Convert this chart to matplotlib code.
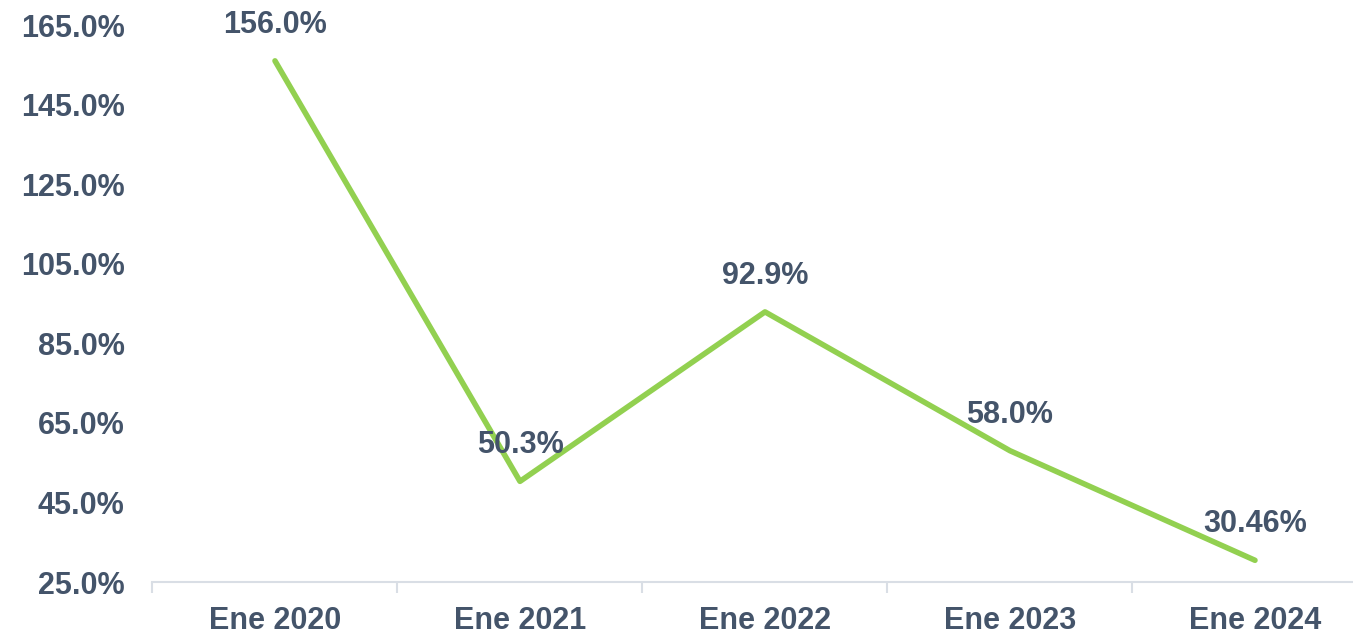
import matplotlib
matplotlib.use('Agg')
import matplotlib.pyplot as plt
from matplotlib.ticker import FixedLocator, NullFormatter

# data
categories = ['Ene 2020', 'Ene 2021', 'Ene 2022', 'Ene 2023', 'Ene 2024']
values = [156.0, 50.3, 92.9, 58.0, 30.46]
labels = ['156.0%', '50.3%', '92.9%', '58.0%', '30.46%']
y_ticks = [25, 45, 65, 85, 105, 125, 145, 165]

text_color = '#44546A'
line_color = '#92D050'
axis_color = '#D9DEE5'

plt.rcParams['font.family'] = ['Liberation Sans', 'DejaVu Sans']
plt.rcParams['font.weight'] = 'bold'

fig = plt.figure(figsize=(13.53, 6.34), dpi=100)
ax = fig.add_axes([0.1127, 0.082, 0.9054, 0.8785])

x = list(range(len(categories)))
ax.plot(x, values, color=line_color, lw=4, solid_capstyle='round',
        solid_joinstyle='round')

for xi, v, s in zip(x, values, labels):
    ax.annotate(s, (xi, v), xytext=(0, 26), textcoords='offset points',
                ha='center', va='center', fontsize=22, fontweight='bold',
                color=text_color)

ax.set_xlim(-0.5, len(categories) - 0.5)
ax.set_ylim(25, 165)

ax.set_yticks(y_ticks)
ax.set_yticklabels([f'{t:.1f}%' for t in y_ticks])
ax.tick_params(axis='y', length=0, pad=20, labelsize=22, labelcolor=text_color)

# category labels at centres, tick marks at boundaries
ax.set_xticks(x)
ax.set_xticklabels(categories)
ax.xaxis.set_minor_locator(FixedLocator([i - 0.5 for i in range(len(categories) + 1)]))
ax.xaxis.set_minor_formatter(NullFormatter())
ax.tick_params(axis='x', which='major', length=0, pad=17, labelsize=22,
               labelcolor=text_color)
ax.tick_params(axis='x', which='minor', length=8, width=1.5, color=axis_color)

for side in ['top', 'right', 'left']:
    ax.spines[side].set_visible(False)
ax.spines['bottom'].set_color(axis_color)
ax.spines['bottom'].set_linewidth(1.5)

fig.savefig('out.png', dpi=100)
